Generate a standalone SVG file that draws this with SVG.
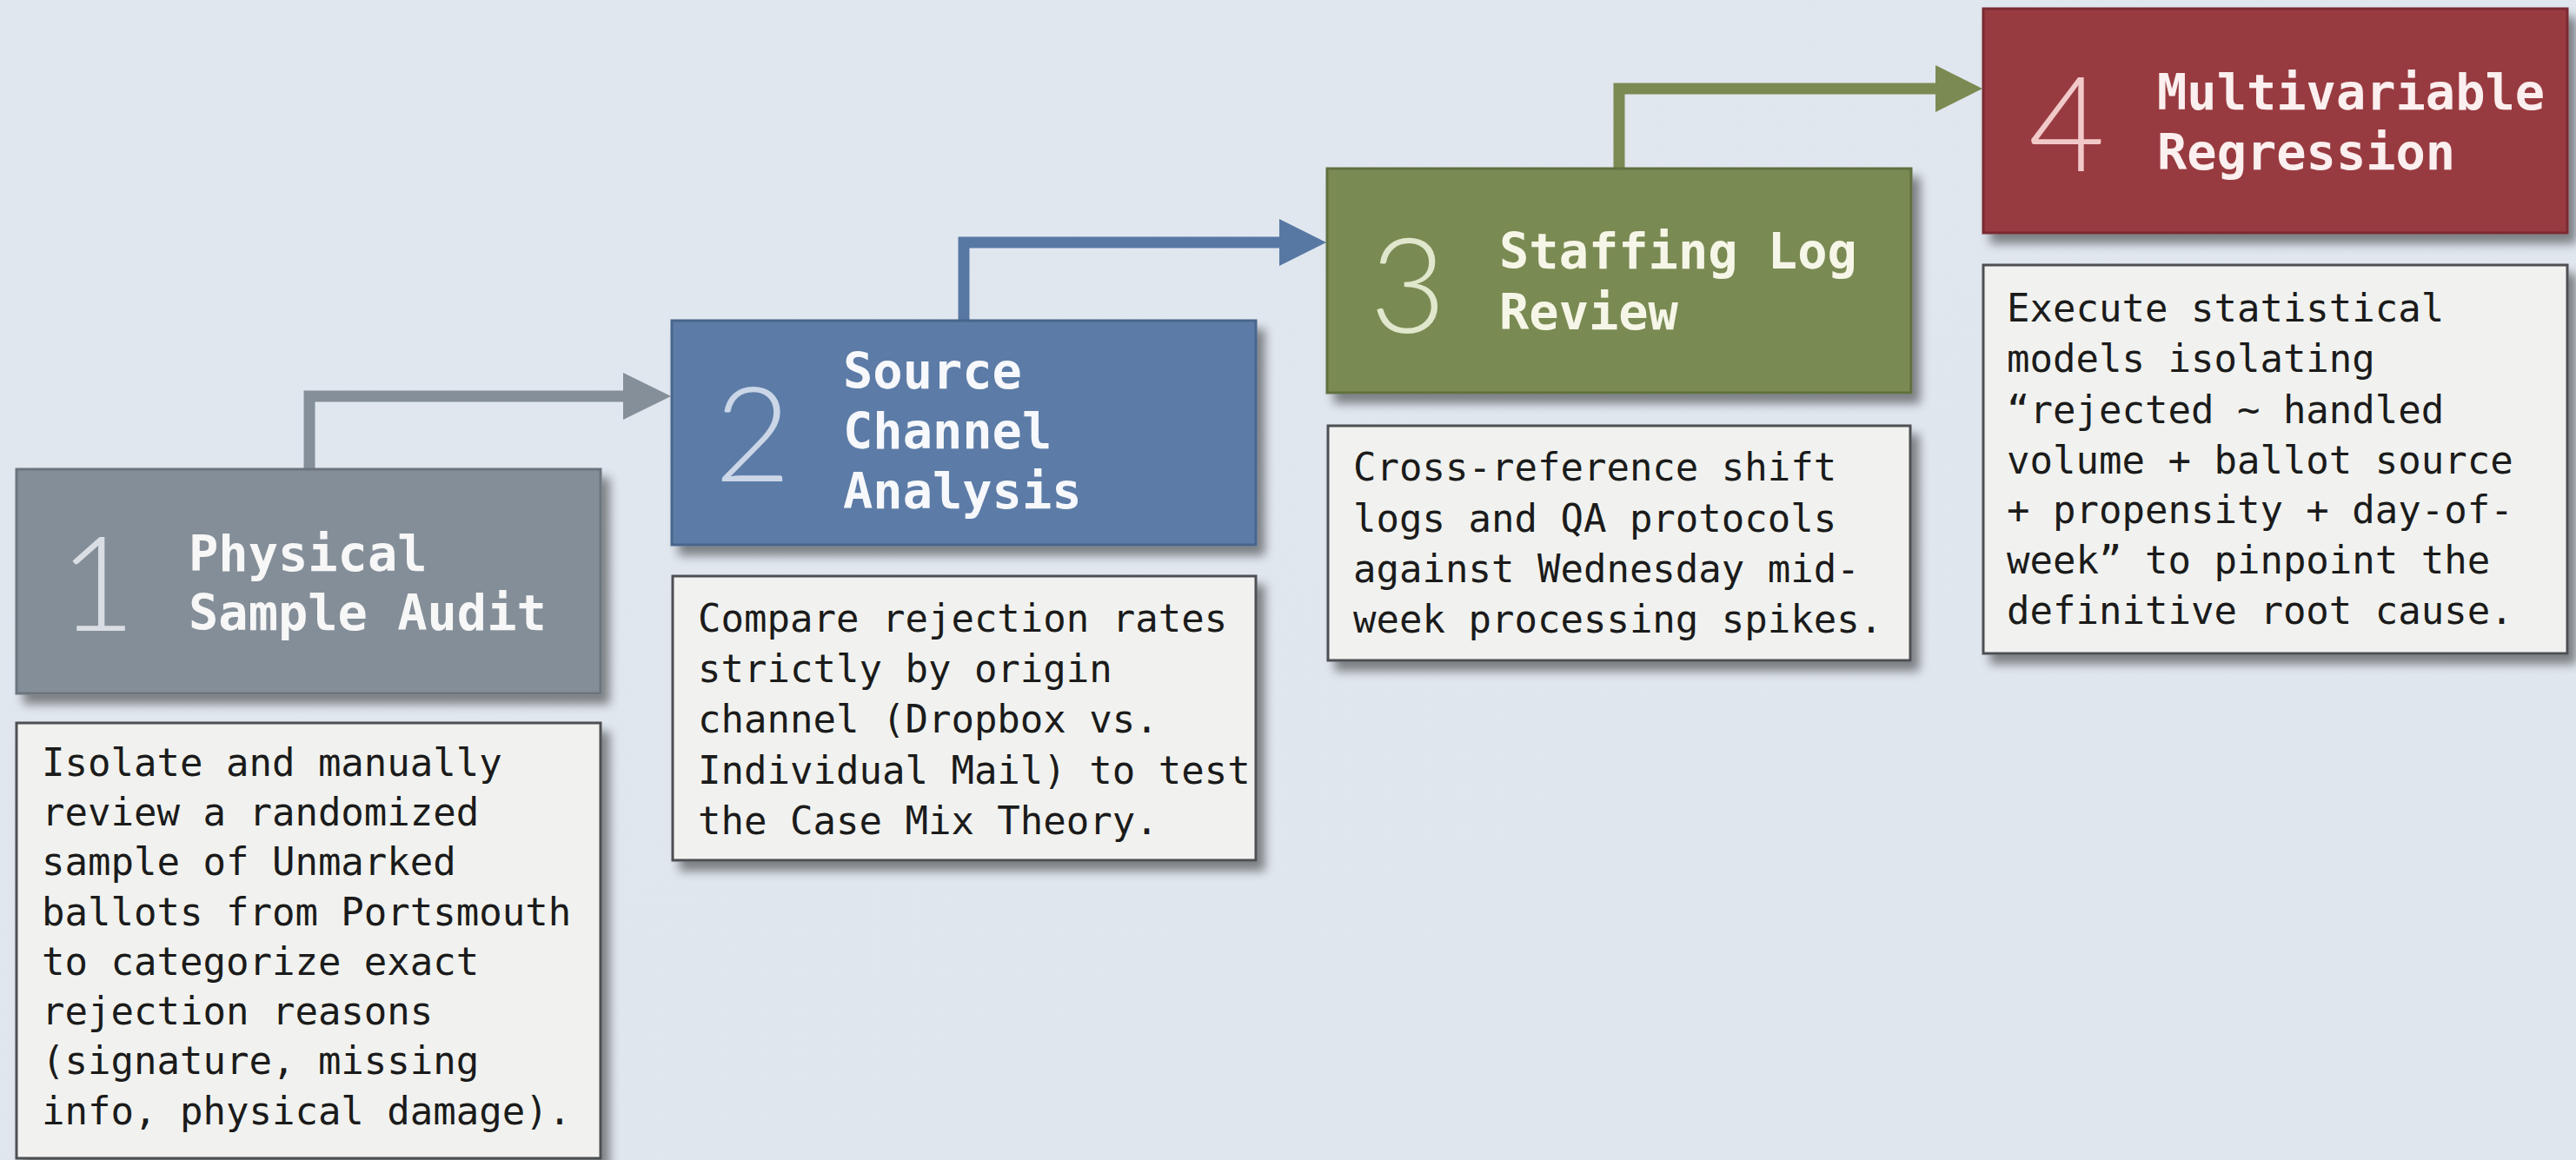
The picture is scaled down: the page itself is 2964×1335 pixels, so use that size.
<svg xmlns="http://www.w3.org/2000/svg" width="2964" height="1335" viewBox="0 0 2964 1335">
  <defs>
    <filter id="shadow" x="-10%" y="-10%" width="130%" height="130%">
      <feGaussianBlur in="SourceAlpha" stdDeviation="6"/>
      <feOffset dx="9" dy="11" result="b"/>
      <feComponentTransfer><feFuncA type="linear" slope="0.45"/></feComponentTransfer>
      <feMerge><feMergeNode/><feMergeNode in="SourceGraphic"/></feMerge>
    </filter>
    <linearGradient id="bg" x1="0" y1="0" x2="1" y2="1">
      <stop offset="0" stop-color="#e0e7ef"/>
      <stop offset="1" stop-color="#dfe6ee"/>
    </linearGradient>
  </defs>
  <style>
    .hdr { stroke-width: 3; filter: url(#shadow); }
    .desc { fill: #f1f2ef; stroke: #4d4f52; stroke-width: 3; filter: url(#shadow); }
    .num { font-family: Lato, Roboto, "Liberation Sans", sans-serif; font-weight: 300; font-size: 152px; text-anchor: middle; }
    .title { font-family: "DejaVu Sans Mono", "Liberation Mono", monospace; font-weight: bold; font-size: 57px; }
    .body { font-family: "DejaVu Sans Mono", "Liberation Mono", monospace; font-size: 44px; fill: #1b1b1b; }
    .conn { fill: none; stroke-width: 13; stroke-linejoin: miter; }
  </style>
  <rect x="0" y="0" width="2964" height="1335" fill="url(#bg)"/>

  <g id="connectors">
    <path class="conn" stroke="#858f99" d="M356 540 V456 H720"/>
    <polygon fill="#858f99" points="717,429 772,456 717,483"/>
    <path class="conn" stroke="#5878a4" d="M1109 369 V279 H1475"/>
    <polygon fill="#5878a4" points="1472,252 1526,279 1472,306"/>
    <path class="conn" stroke="#7a8a52" d="M1863 194 V102 H2230"/>
    <polygon fill="#7a8a52" points="2227,75 2281,102 2227,129"/>
  </g>

  <g id="step1">
    <rect class="hdr" x="19" y="540" width="672" height="258" fill="#848e98" stroke="#6c757e"/>
    <text class="num" x="112" y="726" fill="#d9dee4">1</text>
    <text class="title" fill="#f7f7f7"><tspan x="217" y="657">Physical</tspan><tspan x="217" y="725">Sample Audit</tspan></text>
  </g>
  <g id="desc1">
    <rect class="desc" x="19" y="832" width="672" height="501"/>
    <text class="body">
      <tspan x="48" y="893">Isolate and manually</tspan>
      <tspan x="48" y="950">review a randomized</tspan>
      <tspan x="48" y="1007">sample of Unmarked</tspan>
      <tspan x="48" y="1065">ballots from Portsmouth</tspan>
      <tspan x="48" y="1122">to categorize exact</tspan>
      <tspan x="48" y="1179">rejection reasons</tspan>
      <tspan x="48" y="1236">(signature, missing</tspan>
      <tspan x="48" y="1294">info, physical damage).</tspan>
    </text>
  </g>

  <g id="step2">
    <rect class="hdr" x="773" y="369" width="672" height="258" fill="#5b7ba7" stroke="#48658c"/>
    <text class="num" x="866" y="554" fill="#cbd6e7">2</text>
    <text class="title" fill="#f7f8fb"><tspan x="970" y="447">Source</tspan><tspan x="970" y="516">Channel</tspan><tspan x="970" y="585">Analysis</tspan></text>
  </g>
  <g id="desc2">
    <rect class="desc" x="774" y="663" width="671" height="327"/>
    <text class="body">
      <tspan x="803" y="727">Compare rejection rates</tspan>
      <tspan x="803" y="785">strictly by origin</tspan>
      <tspan x="803" y="843">channel (Dropbox vs.</tspan>
      <tspan x="803" y="902">Individual Mail) to test</tspan>
      <tspan x="803" y="960">the Case Mix Theory.</tspan>
    </text>
  </g>

  <g id="step3">
    <rect class="hdr" x="1527" y="194" width="672" height="258" fill="#7a8a52" stroke="#616f40"/>
    <text class="num" x="1620" y="383" fill="#e0e7cc">3</text>
    <text class="title" fill="#f6f6e8"><tspan x="1725" y="309">Staffing Log</tspan><tspan x="1725" y="379">Review</tspan></text>
  </g>
  <g id="desc3">
    <rect class="desc" x="1528" y="490" width="670" height="270"/>
    <text class="body">
      <tspan x="1557" y="553">Cross-reference shift</tspan>
      <tspan x="1557" y="612">logs and QA protocols</tspan>
      <tspan x="1557" y="670">against Wednesday mid-</tspan>
      <tspan x="1557" y="728">week processing spikes.</tspan>
    </text>
  </g>

  <g id="step4">
    <rect class="hdr" x="2282" y="10" width="672" height="258" fill="#983b3f" stroke="#7a2c30"/>
    <text class="num" x="2378" y="197" fill="#f1c9c9">4</text>
    <text class="title" fill="#fbefef"><tspan x="2482" y="126">Multivariable</tspan><tspan x="2482" y="195">Regression</tspan></text>
  </g>
  <g id="desc4">
    <rect class="desc" x="2282" y="305" width="672" height="447"/>
    <text class="body">
      <tspan x="2309" y="370">Execute statistical</tspan>
      <tspan x="2309" y="428">models isolating</tspan>
      <tspan x="2309" y="487">“rejected ~ handled</tspan>
      <tspan x="2309" y="545">volume + ballot source</tspan>
      <tspan x="2309" y="602">+ propensity + day-of-</tspan>
      <tspan x="2309" y="660">week” to pinpoint the</tspan>
      <tspan x="2309" y="718">definitive root cause.</tspan>
    </text>
  </g>
</svg>
